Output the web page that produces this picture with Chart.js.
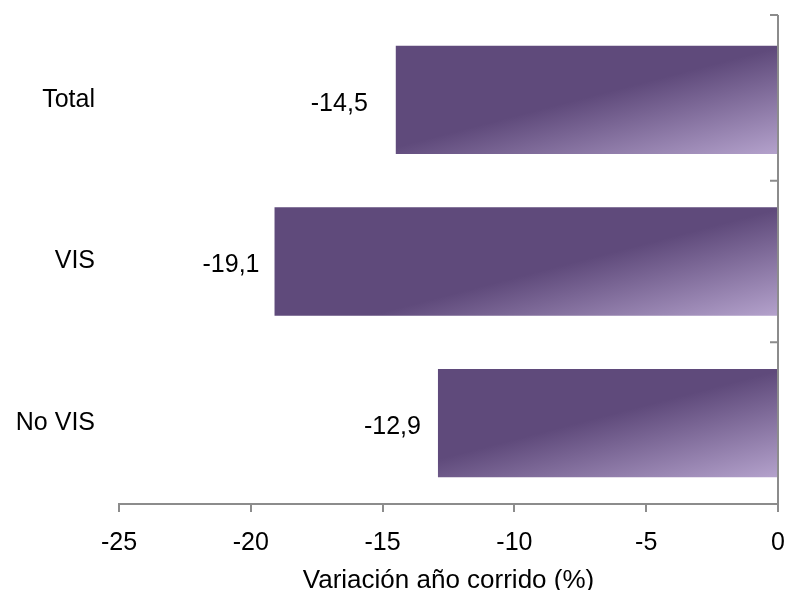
<!DOCTYPE html>
<html>
<head>
<meta charset="utf-8">
<script src="https://cdn.jsdelivr.net/npm/chart.js@4"></script>
<style>
html,body{margin:0;padding:0;background:#fff;}
#wrap{width:788px;height:590px;position:relative;}
</style>
</head>
<body>
<div id="wrap"><canvas id="c" width="788" height="590"></canvas></div>
<script>
const categories = ["Total", "VIS", "No VIS"];
const values = [-14.5, -19.1, -12.9];
const xTicks = [-25, -20, -15, -10, -5, 0];
const axisTitle = "Variación año corrido (%)";

const FONT = "'Liberation Sans', Arial, sans-serif";
const DARK = "#5f4a7b";
const LIGHT = "#b4a2cc";
const AXIS = "#8c8c8c";

function barGradient(context) {
  const chart = context.chart;
  const { ctx, chartArea, scales } = chart;
  if (!chartArea) return DARK;
  const ys = scales.y, xs = scales.x;
  const band = (ys.bottom - ys.top) / categories.length;
  const h = band * 0.67;
  const yc = ys.getPixelForValue(context.dataIndex);
  const yb = yc + h / 2;
  const x1 = xs.getPixelForValue(0);
  const g = ctx.createLinearGradient(x1 - 0.24 * h, yb - 0.92 * h, x1, yb);
  g.addColorStop(0, DARK);
  g.addColorStop(1, LIGHT);
  return g;
}

const decor = {
  id: 'decor',
  afterDatasetsDraw(chart) {
    const { ctx, scales } = chart;
    const xs = scales.x, ys = scales.y;
    const x0 = xs.getPixelForValue(0);
    ctx.save();
    ctx.strokeStyle = AXIS;
    ctx.lineWidth = 2;
    ctx.beginPath();
    const band = (ys.bottom - ys.top) / categories.length;
    const top = ys.top - 4;
    ctx.moveTo(x0, top);
    ctx.lineTo(x0, ys.bottom);
    for (let i = 0; i < categories.length; i++) {
      const y = i === 0 ? top : ys.top + i * band;
      ctx.moveTo(x0, y);
      ctx.lineTo(x0 - 8, y);
    }
    ctx.stroke();
    const gaps = [28, 15, 17];
    ctx.fillStyle = '#000';
    ctx.font = "25px " + FONT;
    ctx.textAlign = 'right';
    ctx.textBaseline = 'middle';
    values.forEach((v, i) => {
      const xp = xs.getPixelForValue(v);
      const yp = ys.getPixelForValue(i) + 4;
      ctx.fillText(v.toFixed(1).replace('.', ','), xp - gaps[i], yp);
    });
    ctx.restore();
  }
};

new Chart(document.getElementById('c'), {
  type: 'bar',
  data: {
    labels: categories,
    datasets: [{
      data: values,
      backgroundColor: barGradient,
      borderWidth: 0,
      categoryPercentage: 1.0,
      barPercentage: 0.67
    }]
  },
  options: {
    indexAxis: 'y',
    responsive: false,
    animation: false,
    devicePixelRatio: 1,
    layout: { padding: { top: 19, right: 10, left: 0, bottom: 0 } },
    plugins: { legend: { display: false }, tooltip: { enabled: false } },
    scales: {
      x: {
        min: -25, max: 0,
        afterBuildTicks(scale) { scale.ticks = xTicks.map(v => ({ value: v })); },
        grid: { drawOnChartArea: false, drawTicks: true, tickLength: 8, color: AXIS, lineWidth: 2 },
        border: { display: true, color: AXIS, width: 2 },
        ticks: { color: '#000', font: { family: FONT, size: 25 }, padding: 16, maxRotation: 0 },
        title: { display: true, text: axisTitle, color: '#000', font: { family: FONT, size: 26 }, padding: { top: 4, bottom: -6 } },
        afterFit(scale) { scale.height = 86; scale.paddingLeft = 0; scale.paddingRight = 0; }
      },
      y: {
        grid: { display: false, drawTicks: false, tickLength: 0 },
        border: { display: false },
        ticks: { color: '#000', font: { family: FONT, size: 25 }, padding: 24, crossAlign: 'near' },
        afterFit(scale) { scale.width = 119; scale.paddingTop = 0; scale.paddingBottom = 0; }
      }
    }
  },
  plugins: [decor]
});
</script>
</body>
</html>
